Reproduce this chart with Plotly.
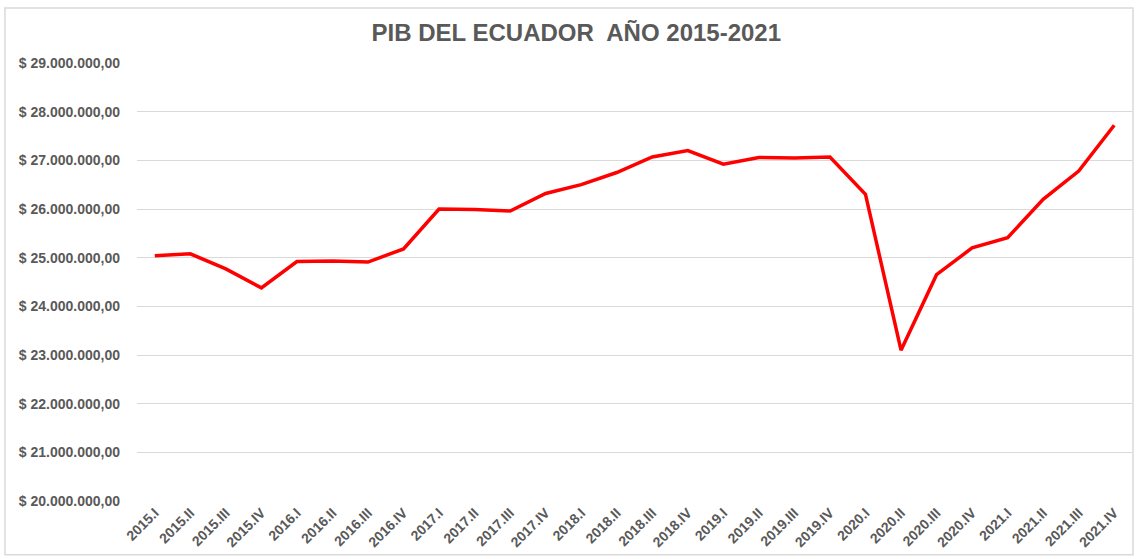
import plotly.graph_objects as go

QUARTERS = [
    "2015.I", "2015.II", "2015.III", "2015.IV",
    "2016.I", "2016.II", "2016.III", "2016.IV",
    "2017.I", "2017.II", "2017.III", "2017.IV",
    "2018.I", "2018.II", "2018.III", "2018.IV",
    "2019.I", "2019.II", "2019.III", "2019.IV",
    "2020.I", "2020.II", "2020.III", "2020.IV",
    "2021.I", "2021.II", "2021.III", "2021.IV",
]

PIB = [
    25040000, 25080000, 24770000, 24380000,
    24920000, 24930000, 24910000, 25180000,
    26000000, 25990000, 25960000, 26320000,
    26500000, 26750000, 27070000, 27200000,
    26920000, 27060000, 27050000, 27070000,
    26300000, 23100000, 24650000, 25200000,
    25410000, 26200000, 26780000, 27720000,
]

Y_TICKS = [20e6, 21e6, 22e6, 23e6, 24e6, 25e6, 26e6, 27e6, 28e6, 29e6]


def fmt_usd(v):
    # formato español: $ 29.000.000,00
    s = f"{v:,.2f}".replace(",", "_").replace(".", ",").replace("_", ".")
    return f"$ {s}"


Y_LABELS = [fmt_usd(v) for v in Y_TICKS]

GRAY = "#595959"
GRID = "#d9d9d9"

fig = go.Figure()

fig.add_trace(
    go.Scatter(
        x=QUARTERS,
        y=PIB,
        mode="lines",
        line=dict(color="#ff0000", width=3.5),
        hovertemplate="%{x}<br>$ %{y:,.2f}<extra></extra>",
    )
)

# marco gris alrededor del gráfico
fig.add_shape(
    type="rect",
    xref="paper", yref="paper",
    x0=-0.1327, x1=1.001, y0=-0.123, y1=1.1256,
    line=dict(color=GRID, width=1.5),
    fillcolor="rgba(0,0,0,0)",
    layer="below",
)

fig.update_layout(
    width=1139,
    height=559,
    paper_bgcolor="white",
    plot_bgcolor="white",
    showlegend=False,
    margin=dict(l=137, r=7, t=63, b=58),
    font=dict(family="Liberation Sans, Arial, sans-serif", color=GRAY),
    title=dict(
        text="<b>PIB DEL ECUADOR  AÑO 2015-2021</b>",
        font=dict(size=24, color=GRAY),
        x=0.506, xanchor="center",
        y=0.941, yanchor="middle",
    ),
    xaxis=dict(
        type="category",
        range=[-0.5, len(QUARTERS) - 0.5],
        tickangle=-45,
        tickfont=dict(size=14, color=GRAY, weight="bold"),
        showgrid=False,
        showline=False,
        ticks="",
        automargin=False,
    ),
    yaxis=dict(
        range=[20e6, 29e6],
        tickvals=Y_TICKS,
        ticktext=Y_LABELS,
        tickfont=dict(size=14, color=GRAY, weight="bold"),
        ticklabelstandoff=16,
        showgrid=True,
        gridcolor=GRID,
        gridwidth=1,
        zeroline=False,
        showline=False,
        ticks="",
        automargin=False,
    ),
)

fig.write_html(
    "out.html",
    config={"displayModeBar": False},
    post_script="document.body.style.margin='0';",
)
